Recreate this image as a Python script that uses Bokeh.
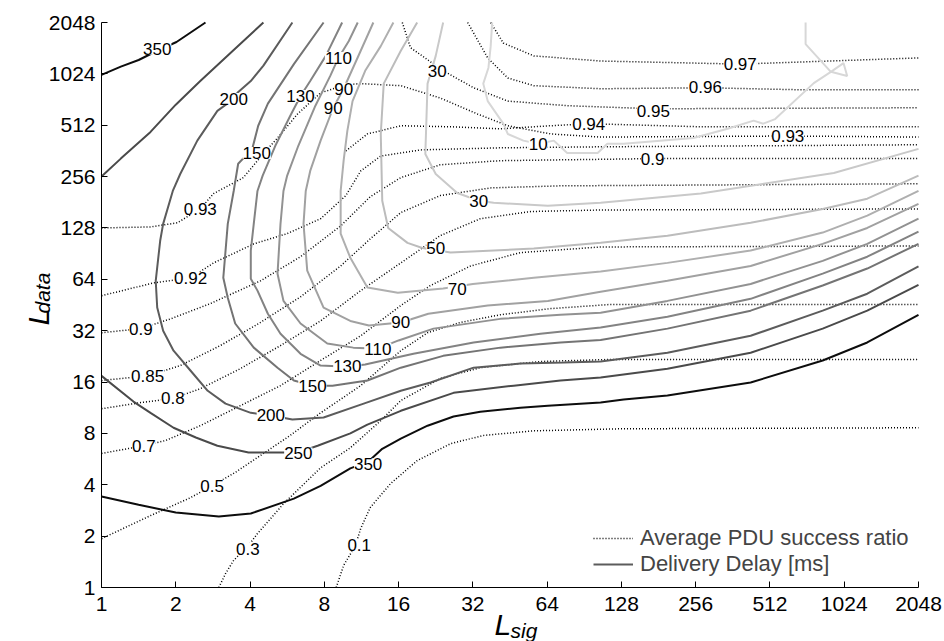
import math
from bokeh.plotting import figure
from bokeh.models import (FixedTicker, NumeralTickFormatter, Label, LabelSet, LogAxis,
                          ColumnDataSource, Legend, LegendItem, Range1d)
from bokeh.core.properties import value
from bokeh.embed import file_html
from bokeh.resources import INLINE

FONT = "Liberation Sans"

# ---------------------------------------------------------------- axes
L_SIG_TICKS = [1, 2, 4, 8, 16, 32, 64, 128, 256, 512, 1024, 2048]
L_DATA_TICKS = [1, 2, 4, 8, 16, 32, 64, 128, 256, 512, 1024, 2048]

# ---------------------------------------------------------------- delivery delay [ms]
# every contour is a list of (log2 L_sig, log2 L_data) points
delay_350_a = [(0, 9.98), (0.26, 10.14), (0.50, 10.27), (0.75, 10.45), (1.01, 10.62), (1.40, 11.0)]
delay_350_b = [(0, 1.77), (0.50, 1.61), (1.00, 1.46), (1.58, 1.38), (2.01, 1.44), (2.59, 1.73),
               (2.95, 1.98), (3.35, 2.32), (3.59, 2.45), (3.78, 2.70), (4.03, 2.90), (4.39, 3.15),
               (4.74, 3.33), (5.10, 3.42), (5.64, 3.50), (6.01, 3.54), (6.72, 3.60), (7.03, 3.66),
               (7.62, 3.74), (8.74, 3.99), (9.71, 4.42), (10.31, 4.77), (11.0, 5.31)]
delay_250_a = [(0, 8.0), (0.26, 8.35), (0.66, 8.87), (1.0, 9.40), (1.33, 9.86), (1.74, 10.41), (2.18, 11.0)]
delay_250_b = [(0, 4.12), (0.43, 3.62), (0.66, 3.40), (0.97, 3.11), (1.27, 2.92), (1.56, 2.76),
               (1.98, 2.63), (2.24, 2.63), (2.65, 2.63), (2.91, 2.76), (3.35, 3.00), (3.58, 3.17),
               (4.03, 3.44), (4.74, 3.79), (5.55, 3.93), (6.18, 4.03), (6.72, 4.09), (7.62, 4.26),
               (8.74, 4.57), (9.71, 5.04), (10.31, 5.39), (11.0, 5.89)]
delay_200 = [(2.57, 11.0), (2.18, 10.16), (2.01, 9.86), (1.83, 9.63), (1.78, 9.51), (1.56, 9.28),
             (1.29, 8.70), (1.06, 8.05), (0.96, 7.72), (0.83, 7.08), (0.79, 6.75), (0.73, 5.97),
             (0.75, 5.45), (0.83, 5.0), (0.97, 4.61), (1.20, 4.22), (1.43, 3.83), (1.67, 3.58),
             (2.01, 3.40), (2.28, 3.35), (2.57, 3.27), (2.99, 3.31), (3.53, 3.58), (4.03, 3.83),
             (4.43, 3.99), (5.01, 4.28), (5.64, 4.36), (6.22, 4.38), (6.72, 4.40), (7.62, 4.57),
             (8.74, 4.90), (9.71, 5.39), (10.31, 5.72), (11.0, 6.25)]
delay_150 = [(2.99, 11.0), (2.59, 10.19), (2.24, 9.42), (2.11, 8.99), (2.03, 8.54), (1.84, 8.25),
             (1.78, 7.72), (1.70, 7.08), (1.64, 6.03), (1.70, 5.64), (1.80, 5.14), (2.05, 4.67),
             (2.37, 4.28), (2.59, 4.03), (2.84, 3.93), (3.11, 3.93), (3.58, 4.03), (4.03, 4.28),
             (4.60, 4.51), (5.37, 4.67), (6.18, 4.77), (6.72, 4.82), (7.62, 5.04), (8.74, 5.39),
             (9.71, 5.88), (10.31, 6.21), (11.0, 6.69)]
delay_130 = [(3.24, 11.0), (3.02, 10.35), (2.81, 9.86), (2.68, 9.57), (2.54, 9.18), (2.34, 8.60),
             (2.17, 8.02), (2.10, 7.72), (2.05, 7.08), (2.01, 6.56), (2.01, 6.01), (2.10, 5.78),
             (2.24, 5.33), (2.41, 4.94), (2.68, 4.55), (2.95, 4.32), (3.31, 4.30), (3.55, 4.34),
             (4.20, 4.55), (5.01, 4.77), (5.91, 4.94), (6.72, 5.06), (7.62, 5.27), (8.74, 5.62),
             (9.71, 6.11), (10.31, 6.44), (11.0, 6.93)]
delay_110 = [(3.45, 11.0), (3.33, 10.64), (3.19, 10.31), (3.08, 9.96), (2.88, 9.38), (2.65, 8.60),
             (2.50, 8.02), (2.45, 7.72), (2.41, 7.08), (2.37, 6.11), (2.45, 5.58), (2.68, 5.14),
             (3.04, 4.75), (3.39, 4.67), (3.72, 4.65), (4.00, 4.81), (4.47, 5.04), (5.37, 5.23),
             (6.18, 5.31), (6.72, 5.35), (7.62, 5.58), (8.74, 5.91), (9.71, 6.36), (10.31, 6.69),
             (11.0, 7.18)]
delay_90 = [(3.66, 11.0), (3.49, 10.45), (3.26, 9.71), (3.12, 9.34), (2.95, 8.70), (2.81, 8.11),
            (2.75, 7.72), (2.72, 7.08), (2.77, 6.17), (2.99, 5.45), (3.35, 5.19), (3.60, 5.10),
            (4.03, 5.16), (4.40, 5.33), (5.20, 5.49), (6.01, 5.58), (6.72, 5.76), (7.62, 5.97),
            (8.74, 6.26), (9.71, 6.69), (10.31, 7.00), (11.0, 7.47)]
delay_70 = [(3.93, 11.0), (3.76, 10.54), (3.55, 10.06), (3.38, 9.47), (3.31, 8.89), (3.26, 8.31),
            (3.22, 7.72), (3.22, 6.89), (3.35, 6.42), (3.58, 5.84), (3.99, 5.74), (4.60, 5.82),
            (5.00, 5.91), (5.82, 6.03), (6.72, 6.15), (7.62, 6.32), (8.74, 6.56), (9.71, 6.91),
            (10.31, 7.24), (11.0, 7.72)]
delay_50 = [(4.25, 11.0), (4.03, 10.45), (3.80, 9.81), (3.76, 8.83), (3.78, 7.53), (3.86, 7.00),
            (4.12, 6.71), (4.32, 6.61), (4.70, 6.52), (5.82, 6.60), (6.72, 6.71), (7.62, 6.85),
            (8.74, 7.10), (9.71, 7.37), (10.31, 7.57), (11.0, 8.02)]
delay_30 = [(4.60, 11.0), (4.50, 10.35), (4.39, 9.81), (4.36, 8.44), (4.50, 8.05), (4.79, 7.68),
            (5.08, 7.53), (5.28, 7.49), (6.01, 7.43), (6.72, 7.49), (8.07, 7.67), (9.86, 8.07),
            (11.0, 8.54)]
delay_10 = [(5.26, 11.0), (5.24, 10.54), (5.21, 10.12), (5.14, 9.81), (5.20, 9.47), (5.41, 9.03),
            (5.47, 8.83), (5.68, 8.70), (5.88, 8.64), (6.09, 8.70), (6.27, 8.46), (6.68, 8.46),
            (6.81, 8.64), (7.03, 8.64), (7.97, 8.75), (8.43, 8.93), (8.78, 9.09), (8.91, 9.03),
            (9.07, 9.12), (9.59, 9.82), (9.82, 10.04), (10.04, 9.96), (9.99, 10.21), (9.82, 10.04),
            (9.48, 10.58), (9.48, 11.0)]

delay_levels = [350, 350, 250, 250, 200, 150, 130, 110, 90, 70, 50, 30, 10]
delay_curves = [delay_350_a, delay_350_b, delay_250_a, delay_250_b, delay_200, delay_150,
                delay_130, delay_110, delay_90, delay_70, delay_50, delay_30, delay_10]
delay_gray = {350: "#0d0d0d", 250: "#4a4a4a", 200: "#5c5c5c", 150: "#747474", 130: "#838383",
              110: "#929292", 90: "#a1a1a1", 70: "#afafaf", 50: "#bcbcbc", 30: "#c9c9c9",
              10: "#d7d7d7"}

delay_label_text = ["350", "350", "250", "200", "200", "150", "150", "130", "130", "110", "110",
                    "90", "90", "90", "70", "50", "30", "30", "10"]
delay_label_sig = [0.75, 3.59, 2.65, 1.78, 2.28, 2.09, 2.84, 2.68, 3.31, 3.19, 3.72,
                   3.26, 3.12, 4.03, 4.79, 4.50, 4.52, 5.08, 5.88]
delay_label_data = [10.49, 2.40, 2.61, 9.51, 3.35, 8.46, 3.93, 9.57, 4.32, 10.31, 4.65,
                    9.71, 9.34, 5.16, 5.82, 6.61, 10.06, 7.53, 8.64]

# ---------------------------------------------------------------- average PDU success ratio
ratio_010 = [(3.16, 0), (3.26, 0.43), (3.42, 0.82), (3.49, 1.15), (3.62, 1.56), (3.89, 2.02),
             (4.25, 2.47), (4.70, 2.80), (5.14, 2.96), (5.82, 3.05), (6.99, 3.09), (11.0, 3.11)]
ratio_030 = [(1.58, 0), (1.67, 0.27), (1.78, 0.53), (1.97, 0.80), (2.10, 1.05), (2.45, 1.63),
             (2.95, 2.33), (3.35, 2.72), (3.76, 3.25), (4.03, 3.64), (4.56, 4.07), (5.10, 4.28),
             (5.91, 4.40), (6.85, 4.44), (11.0, 4.44)]
ratio_050 = [(0, 0.95), (0.66, 1.40), (1.20, 1.75), (1.49, 1.98), (1.80, 2.24), (2.14, 2.57),
             (2.54, 2.96), (2.95, 3.40), (3.49, 3.93), (4.03, 4.61), (4.39, 4.96), (4.83, 5.16),
             (5.37, 5.31), (6.05, 5.43), (6.85, 5.51), (11.0, 5.51)]
ratio_070 = [(0, 2.61), (0.57, 2.76), (0.86, 2.86), (1.33, 3.15), (1.87, 3.54), (2.41, 3.93),
             (2.95, 4.42), (3.49, 4.90), (4.03, 5.49), (4.43, 5.88), (4.97, 6.26), (5.64, 6.52),
             (6.72, 6.63), (11.0, 6.65)]
ratio_080 = [(0, 3.48), (0.53, 3.60), (0.96, 3.68), (1.33, 3.87), (1.87, 4.26), (2.41, 4.71),
             (2.95, 5.19), (3.49, 5.78), (4.03, 6.32), (4.56, 6.85), (5.10, 7.18), (5.78, 7.32),
             (6.72, 7.35), (11.0, 7.37)]
ratio_085 = [(0, 4.03), (0.62, 4.12), (1.06, 4.32), (1.60, 4.71), (2.14, 5.16), (2.68, 5.66),
             (3.22, 6.26), (3.62, 6.79), (4.03, 7.30), (4.56, 7.63), (5.24, 7.78), (6.18, 7.82),
             (11.0, 7.86)]
ratio_090 = [(0, 4.96), (0.53, 5.04), (0.93, 5.23), (1.47, 5.53), (2.14, 5.97), (2.68, 6.44),
             (3.22, 7.04), (3.62, 7.61), (4.03, 7.98), (4.56, 8.23), (5.37, 8.31), (7.42, 8.35),
             (11.0, 8.35)]
ratio_092 = [(0, 5.68), (0.70, 5.93), (1.20, 6.03), (1.51, 6.32), (2.05, 6.69), (2.50, 6.89),
             (2.95, 7.18), (3.29, 7.63), (3.49, 8.11), (3.76, 8.40), (4.30, 8.52), (5.37, 8.56),
             (6.72, 8.58), (11.0, 8.62)]
ratio_093 = [(0, 7.00), (0.66, 7.02), (1.02, 7.10), (1.33, 7.37), (1.51, 7.67), (1.91, 7.98),
             (2.21, 8.50), (2.37, 8.75), (2.64, 9.22), (2.95, 9.63), (3.29, 9.79), (3.49, 9.81),
             (4.03, 9.77), (4.56, 9.53), (5.06, 9.22), (5.47, 8.99), (6.05, 8.83), (6.72, 8.77),
             (9.24, 8.79), (11.0, 8.77)]
ratio_094 = [(3.29, 8.50), (3.58, 8.83), (4.03, 8.99), (4.70, 8.97), (5.37, 8.93), (6.05, 8.99),
             (6.56, 9.03), (8.07, 8.97), (11.0, 8.97)]
ratio_095 = [(4.05, 11.0), (4.16, 10.51), (4.60, 10.06), (5.01, 9.73), (5.47, 9.47), (6.27, 9.38),
             (7.43, 9.32), (11.0, 9.34)]
ratio_096 = [(4.93, 11.0), (5.20, 10.31), (5.47, 9.92), (5.82, 9.77), (6.72, 9.71), (8.13, 9.73),
             (9.41, 9.69), (11.0, 9.69)]
ratio_097 = [(5.24, 11.0), (5.41, 10.60), (5.82, 10.35), (6.72, 10.25), (8.60, 10.19), (11.0, 10.31)]

ratio_curves = [ratio_010, ratio_030, ratio_050, ratio_070, ratio_080, ratio_085, ratio_090,
                ratio_092, ratio_093, ratio_094, ratio_095, ratio_096, ratio_097]

ratio_label_text = ["0.1", "0.3", "0.5", "0.7", "0.8", "0.85", "0.9", "0.9", "0.92", "0.93",
                    "0.93", "0.94", "0.95", "0.96", "0.97"]
ratio_label_sig = [3.47, 1.97, 1.49, 0.57, 0.96, 0.62, 0.53, 7.42, 1.20, 1.33, 9.24, 6.56,
                   7.43, 8.13, 8.60]
ratio_label_data = [0.82, 0.75, 1.98, 2.76, 3.68, 4.12, 5.04, 8.35, 6.03, 7.37, 8.79, 9.03,
                    9.28, 9.75, 10.19]


def pow2(values):
    return [2.0 ** v for v in values]


# ---------------------------------------------------------------- page geometry (pixels)
W, H = 944, 641
BOX_L, BOX_R, BOX_T, BOX_B = 101, 918, 22, 587
octaves = math.log2(L_SIG_TICKS[-1] / L_SIG_TICKS[0])
px_x = (BOX_R - BOX_L) / octaves
px_y = (BOX_B - BOX_T) / octaves
x_range = Range1d(2 ** (-BOX_L / px_x), 2 ** ((W - BOX_L) / px_x))
y_range = Range1d(2 ** (-(H - BOX_B) / px_y), 2 ** (BOX_B / px_y))

# the frame spans the whole canvas; the axes are pinned at L = 1
p = figure(frame_width=W, frame_height=H, x_range=x_range, y_range=y_range,
           x_axis_type="log", y_axis_type="log", x_axis_location=None, y_axis_location=None,
           output_backend="svg", toolbar_location=None, min_border=0,
           background_fill_color="white", border_fill_color="white")
p.outline_line_color = None
p.grid.visible = False

xaxis = LogAxis(ticker=FixedTicker(ticks=L_SIG_TICKS, minor_ticks=[]),
                formatter=NumeralTickFormatter(format="0"),
                bounds=(L_SIG_TICKS[0], L_SIG_TICKS[-1]), fixed_location=L_DATA_TICKS[0])
yaxis = LogAxis(ticker=FixedTicker(ticks=L_DATA_TICKS, minor_ticks=[]),
                formatter=NumeralTickFormatter(format="0"),
                bounds=(L_DATA_TICKS[0], L_DATA_TICKS[-1]), fixed_location=L_SIG_TICKS[0])
for ax in (xaxis, yaxis):
    ax.major_tick_in = 6
    ax.major_tick_out = 0
    ax.minor_tick_in = 0
    ax.minor_tick_out = 0
    ax.axis_line_color = "black"
    ax.major_tick_line_color = "black"
    ax.major_label_text_font = FONT
    ax.major_label_text_font_size = "21px"
    ax.major_label_text_color = "black"
xaxis.major_label_standoff = 9
yaxis.major_label_standoff = 6
p.add_layout(xaxis, "below")
p.add_layout(yaxis, "left")

# dotted success-ratio contours
dot_renderers = []
for curve in ratio_curves:
    r = p.line(pow2([c[0] for c in curve]), pow2([c[1] for c in curve]),
               line_color="#000000", line_width=1.5, line_dash="1 2")
    dot_renderers.append(r)

# solid delay contours, lighter levels first
solid_renderers = {}
order = sorted(range(len(delay_curves)), key=lambda i: delay_levels[i])
for i in order:
    curve = delay_curves[i]
    solid_renderers[delay_levels[i]] = p.line(
        pow2([c[0] for c in curve]), pow2([c[1] for c in curve]),
        line_color=delay_gray[delay_levels[i]], line_width=2)

label_style = dict(text_align="center", text_baseline="middle", text_font=value(FONT),
                   text_font_size="17px", text_color="black", background_fill_color="white")
p.add_layout(LabelSet(x="x", y="y", text="text", source=ColumnDataSource(dict(
    x=pow2(ratio_label_sig), y=pow2(ratio_label_data), text=ratio_label_text)), **label_style))
p.add_layout(LabelSet(x="x", y="y", text="text", source=ColumnDataSource(dict(
    x=pow2(delay_label_sig), y=pow2(delay_label_data), text=delay_label_text)), **label_style))


def title_piece(text, x, y_base, size, angle=0.0):
    # x / y_base in canvas pixels from the top-left corner; anchor = start of the baseline
    return Label(x=x, y=H - y_base, x_units="screen", y_units="screen", text=text,
                 angle=angle, text_font=FONT, text_font_style="italic",
                 text_font_size=size, text_align="left", text_baseline="alphabetic",
                 text_color="black")


p.add_layout(title_piece("L", 494, 624, "30px"))
p.add_layout(title_piece("sig", 510, 630, "21px"))
p.add_layout(title_piece("L", 38, 325, "30px", math.pi / 2))
p.add_layout(title_piece("data", 42, 313, "21px", math.pi / 2))

# legend
legend = Legend(items=[LegendItem(label="Average PDU success ratio", renderers=[dot_renderers[0]]),
                       LegendItem(label="Delivery Delay [ms]", renderers=[solid_renderers[200]])],
                location=(593, H - 577), border_line_color=None, background_fill_alpha=0,
                label_text_font=FONT, label_text_font_size="22px", glyph_width=40,
                glyph_height=26, label_height=26, spacing=0, padding=0, margin=0,
                label_standoff=7)
p.add_layout(legend)

open("out.html", "w").write(file_html(p, INLINE))
